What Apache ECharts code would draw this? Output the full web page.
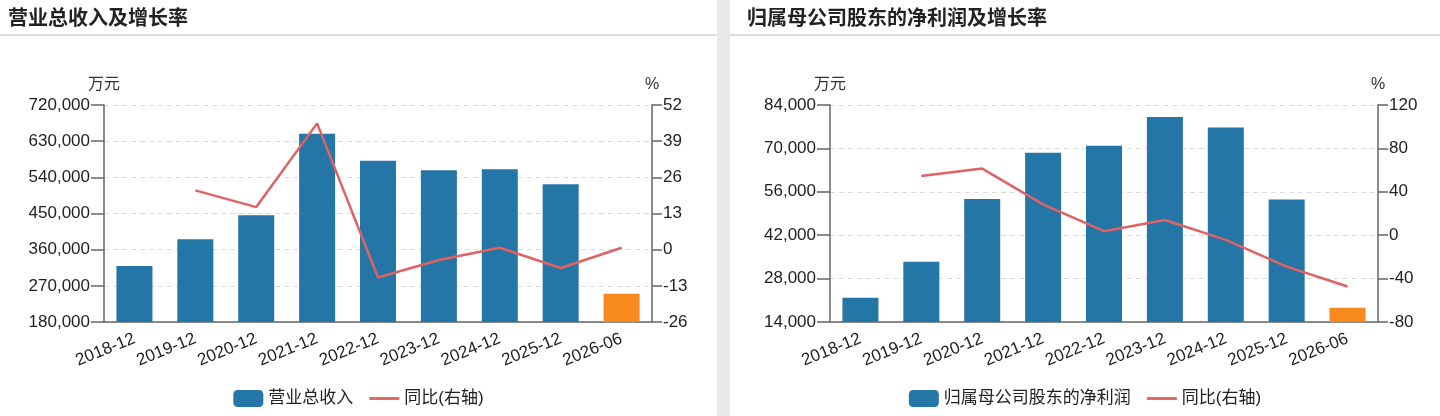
<!DOCTYPE html>
<html>
<head>
<meta charset="utf-8">
<script src="https://cdn.jsdelivr.net/npm/echarts@6/dist/echarts.min.js"></script>
<style>
    html, body { margin: 0; padding: 0; }
    body { width: 1440px; height: 416px; background: #e9e9eb; position: relative; overflow: hidden; }
    .panel { position: absolute; top: 0; height: 416px; background: #fff; }
</style>
</head>
<body>

<div id="left" class="panel" style="left:0;width:717px;"></div>
<div id="right" class="panel" style="left:730px;width:710px;"></div>

<script type="text/javascript">
    var categories = ['2018-12', '2019-12', '2020-12', '2021-12', '2022-12', '2023-12', '2024-12', '2025-12', '2026-06'];

    // 营业总收入 (万元) / 同比 (%)
    var revenue = [319500, 386200, 445500, 648300, 581500, 557500, 560000, 523000, 250200];
    var revenueYoy = [null, 21.3, 15.3, 45.4, -10.0, -3.7, 0.7, -6.6, 0.7];

    // 归属母公司股东的净利润 (万元) / 同比 (%)
    var profit = [21800, 33400, 53650, 68600, 70860, 80150, 76720, 53550, 18600];
    var profitYoy = [null, 54.6, 61.4, 28.4, 3.7, 14.0, -4.3, -29.0, -47.3];

    var FONT = '"Liberation Sans", Arial, "Noto Sans CJK SC", sans-serif';
    var BLUE = '#2376a5';
    var ORANGE = '#f7891d';
    var RED = '#e06262';

    function barData(values) {
        return values.map(function (v, i) {
            if (i === values.length - 1) {
                return {value: v, itemStyle: {color: ORANGE}};
            }
            return v;
        });
    }

    function makeOption(cfg) {
        return {
            animation: false,
            textStyle: {fontFamily: FONT},
            title: {
                text: cfg.title,
                left: cfg.titleLeft,
                top: 4,
                textStyle: {fontSize: 20, fontWeight: 'bold', color: '#222', fontFamily: FONT}
            },
            graphic: [{
                type: 'line',
                shape: {x1: 0, y1: 35, x2: cfg.width, y2: 35},
                style: {stroke: '#d4d4d4', lineWidth: 1.5}
            }],
            legend: {
                bottom: 4,
                left: 'center',
                itemWidth: 30,
                itemHeight: 17,
                itemGap: 16,
                textStyle: {fontSize: 17, color: '#222', fontFamily: FONT},
                data: [
                    {name: cfg.barName, icon: 'roundRect', itemStyle: {color: BLUE}},
                    {name: '同比(右轴)', icon: 'path://M0,0 L32,0 L32,3 L0,3 Z', itemStyle: {color: RED}}
                ]
            },
            grid: {
                left: cfg.gridLeft,
                right: cfg.gridRight,
                top: 105,
                bottom: 94
            },
            xAxis: {
                type: 'category',
                data: categories,
                axisLine: {onZero: false, lineStyle: {color: '#666', width: 1.5}},
                axisTick: {alignWithLabel: true, length: 10, lineStyle: {color: '#666', width: 1.5}},
                axisLabel: {rotate: 22, fontSize: 17, color: '#222', margin: 16, interval: 0}
            },
            yAxis: [{
                type: 'value',
                name: '万元',
                nameGap: 12,
                nameTextStyle: {fontSize: 16, color: '#333', align: 'center'},
                min: cfg.leftMin,
                max: cfg.leftMax,
                interval: cfg.leftInterval,
                axisLine: {show: true, lineStyle: {color: '#666', width: 1.5}},
                axisTick: {show: true, length: 13, lineStyle: {color: '#666', width: 1.5}},
                axisLabel: {
                    fontSize: 17, color: '#222', margin: 14,
                    formatter: function (v) { return v.toLocaleString('en-US'); }
                },
                splitLine: {lineStyle: {color: '#dcdcdc', type: [5, 4]}}
            }, {
                type: 'value',
                name: '%',
                nameGap: 12,
                nameTextStyle: {fontSize: 16, color: '#333', align: 'center'},
                min: cfg.rightMin,
                max: cfg.rightMax,
                interval: cfg.rightInterval,
                axisLine: {show: true, lineStyle: {color: '#666', width: 1.5}},
                axisTick: {show: true, length: 10, lineStyle: {color: '#666', width: 1.5}},
                axisLabel: {fontSize: 17, color: '#222', margin: 11},
                splitLine: {show: false}
            }],
            series: [{
                name: cfg.barName,
                type: 'bar',
                barWidth: 36,
                itemStyle: {color: BLUE},
                data: barData(cfg.bars)
            }, {
                name: '同比(右轴)',
                type: 'line',
                yAxisIndex: 1,
                showSymbol: false,
                symbol: 'none',
                lineStyle: {color: RED, width: 2.5},
                itemStyle: {color: RED},
                data: cfg.yoy
            }]
        };
    }

    var leftChart = echarts.init(document.getElementById('left'));
    leftChart.setOption(makeOption({
        title: '营业总收入及增长率',
        titleLeft: 3,
        width: 717,
        barName: '营业总收入',
        gridLeft: 104,
        gridRight: 65,
        leftMin: 180000, leftMax: 720000, leftInterval: 90000,
        rightMin: -26, rightMax: 52, rightInterval: 13,
        bars: revenue,
        yoy: revenueYoy
    }));

    var rightChart = echarts.init(document.getElementById('right'));
    rightChart.setOption(makeOption({
        title: '归属母公司股东的净利润及增长率',
        titleLeft: 12,
        width: 710,
        barName: '归属母公司股东的净利润',
        gridLeft: 100,
        gridRight: 62,
        leftMin: 14000, leftMax: 84000, leftInterval: 14000,
        rightMin: -80, rightMax: 120, rightInterval: 40,
        bars: profit,
        yoy: profitYoy
    }));
</script>
</body>
</html>
